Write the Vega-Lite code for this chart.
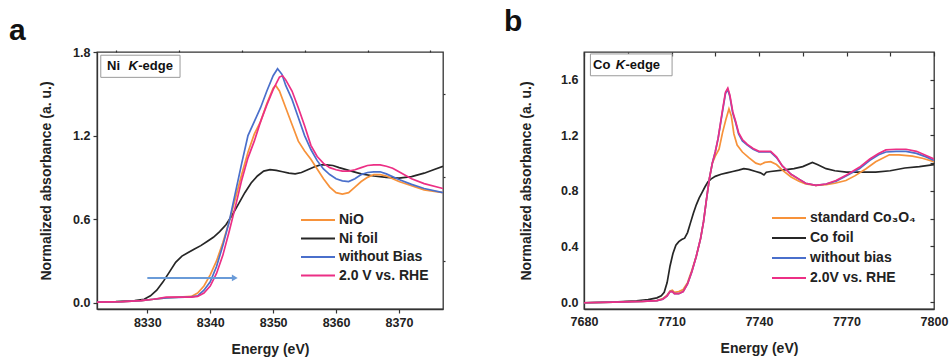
{
  "$schema": "https://vega.github.io/schema/vega-lite/v6.json",
  "padding": {"left": 8, "top": 6, "right": 4, "bottom": 0},
  "background": "white",
  "config": {
    "font": "Liberation Sans",
    "view": {"stroke": "#333333", "strokeWidth": 1.3},
    "axis": {"domainColor": "#333333", "domainWidth": 1.3, "tickColor": "#333333", "tickWidth": 1.2, "labelFont": "Liberation Sans", "labelFontWeight": "bold", "labelFontSize": 12.5, "labelColor": "#222222", "titleFont": "Liberation Sans", "titleFontSize": 14, "titleFontWeight": "bold", "titleColor": "#222222", "grid": false, "labelOverlap": false, "labelFlush": false},
    "legend": {"labelFont": "Liberation Sans", "labelFontWeight": "bold", "labelFontSize": 14, "labelColor": "#222222"}
  },
  "datasets": {
    "ni": [
      {"E": 8322, "v": 0.005, "series": "Ni foil"}, {"E": 8325, "v": 0.008, "series": "Ni foil"}, {"E": 8328, "v": 0.015, "series": "Ni foil"}, {"E": 8329.5, "v": 0.025, "series": "Ni foil"}, {"E": 8330.5, "v": 0.05, "series": "Ni foil"}, {"E": 8331.5, "v": 0.09, "series": "Ni foil"}, {"E": 8332.5, "v": 0.15, "series": "Ni foil"}, {"E": 8333.5, "v": 0.22, "series": "Ni foil"}, {"E": 8334.5, "v": 0.29, "series": "Ni foil"}, {"E": 8335.5, "v": 0.335, "series": "Ni foil"}, {"E": 8336.5, "v": 0.36, "series": "Ni foil"}, {"E": 8337.5, "v": 0.385, "series": "Ni foil"}, {"E": 8338.5, "v": 0.41, "series": "Ni foil"}, {"E": 8339.5, "v": 0.44, "series": "Ni foil"}, {"E": 8340.5, "v": 0.47, "series": "Ni foil"}, {"E": 8341.5, "v": 0.51, "series": "Ni foil"}, {"E": 8342.5, "v": 0.56, "series": "Ni foil"}, {"E": 8343.5, "v": 0.63, "series": "Ni foil"}, {"E": 8344.5, "v": 0.71, "series": "Ni foil"}, {"E": 8345.5, "v": 0.79, "series": "Ni foil"}, {"E": 8346.5, "v": 0.86, "series": "Ni foil"}, {"E": 8347.5, "v": 0.91, "series": "Ni foil"}, {"E": 8348.5, "v": 0.945, "series": "Ni foil"}, {"E": 8349.5, "v": 0.955, "series": "Ni foil"}, {"E": 8350.5, "v": 0.95, "series": "Ni foil"}, {"E": 8351.5, "v": 0.94, "series": "Ni foil"}, {"E": 8352.5, "v": 0.93, "series": "Ni foil"}, {"E": 8353.5, "v": 0.925, "series": "Ni foil"}, {"E": 8354.5, "v": 0.935, "series": "Ni foil"}, {"E": 8355.5, "v": 0.955, "series": "Ni foil"}, {"E": 8356.5, "v": 0.975, "series": "Ni foil"}, {"E": 8357.5, "v": 0.99, "series": "Ni foil"}, {"E": 8358.5, "v": 0.99, "series": "Ni foil"}, {"E": 8359.5, "v": 0.985, "series": "Ni foil"}, {"E": 8360.5, "v": 0.97, "series": "Ni foil"}, {"E": 8362, "v": 0.95, "series": "Ni foil"}, {"E": 8364, "v": 0.925, "series": "Ni foil"}, {"E": 8366, "v": 0.91, "series": "Ni foil"}, {"E": 8368, "v": 0.9, "series": "Ni foil"}, {"E": 8370, "v": 0.895, "series": "Ni foil"}, {"E": 8372, "v": 0.905, "series": "Ni foil"}, {"E": 8374, "v": 0.93, "series": "Ni foil"}, {"E": 8375.5, "v": 0.955, "series": "Ni foil"}, {"E": 8377, "v": 0.98, "series": "Ni foil"},
      {"E": 8322, "v": 0.005, "series": "NiO"}, {"E": 8326, "v": 0.008, "series": "NiO"}, {"E": 8329, "v": 0.015, "series": "NiO"}, {"E": 8331, "v": 0.025, "series": "NiO"}, {"E": 8333, "v": 0.035, "series": "NiO"}, {"E": 8335, "v": 0.04, "series": "NiO"}, {"E": 8337, "v": 0.045, "series": "NiO"}, {"E": 8338, "v": 0.07, "series": "NiO"}, {"E": 8339, "v": 0.12, "series": "NiO"}, {"E": 8340, "v": 0.2, "series": "NiO"}, {"E": 8341, "v": 0.3, "series": "NiO"}, {"E": 8342, "v": 0.43, "series": "NiO"}, {"E": 8343, "v": 0.58, "series": "NiO"}, {"E": 8344, "v": 0.75, "series": "NiO"}, {"E": 8345, "v": 0.92, "series": "NiO"}, {"E": 8346, "v": 1.08, "series": "NiO"}, {"E": 8347, "v": 1.21, "series": "NiO"}, {"E": 8348, "v": 1.3, "series": "NiO"}, {"E": 8349, "v": 1.43, "series": "NiO"}, {"E": 8350, "v": 1.54, "series": "NiO"}, {"E": 8350.4, "v": 1.56, "series": "NiO"}, {"E": 8351, "v": 1.52, "series": "NiO"}, {"E": 8352, "v": 1.4, "series": "NiO"}, {"E": 8353, "v": 1.28, "series": "NiO"}, {"E": 8354, "v": 1.16, "series": "NiO"}, {"E": 8355, "v": 1.09, "series": "NiO"}, {"E": 8356, "v": 1.03, "series": "NiO"}, {"E": 8357, "v": 0.96, "series": "NiO"}, {"E": 8358, "v": 0.89, "series": "NiO"}, {"E": 8359, "v": 0.83, "series": "NiO"}, {"E": 8360, "v": 0.79, "series": "NiO"}, {"E": 8361, "v": 0.78, "series": "NiO"}, {"E": 8362, "v": 0.79, "series": "NiO"}, {"E": 8363, "v": 0.83, "series": "NiO"}, {"E": 8364, "v": 0.87, "series": "NiO"}, {"E": 8365, "v": 0.9, "series": "NiO"}, {"E": 8366, "v": 0.92, "series": "NiO"}, {"E": 8367, "v": 0.92, "series": "NiO"}, {"E": 8368, "v": 0.91, "series": "NiO"}, {"E": 8370, "v": 0.87, "series": "NiO"}, {"E": 8372, "v": 0.84, "series": "NiO"}, {"E": 8374, "v": 0.81, "series": "NiO"}, {"E": 8377, "v": 0.79, "series": "NiO"},
      {"E": 8322, "v": 0.005, "series": "without Bias"}, {"E": 8326, "v": 0.008, "series": "without Bias"}, {"E": 8329, "v": 0.015, "series": "without Bias"}, {"E": 8331, "v": 0.025, "series": "without Bias"}, {"E": 8333, "v": 0.035, "series": "without Bias"}, {"E": 8335, "v": 0.038, "series": "without Bias"}, {"E": 8337, "v": 0.042, "series": "without Bias"}, {"E": 8338, "v": 0.05, "series": "without Bias"}, {"E": 8339, "v": 0.09, "series": "without Bias"}, {"E": 8340, "v": 0.15, "series": "without Bias"}, {"E": 8341, "v": 0.26, "series": "without Bias"}, {"E": 8342, "v": 0.41, "series": "without Bias"}, {"E": 8343, "v": 0.58, "series": "without Bias"}, {"E": 8344, "v": 0.79, "series": "without Bias"}, {"E": 8345, "v": 1.0, "series": "without Bias"}, {"E": 8346, "v": 1.2, "series": "without Bias"}, {"E": 8347, "v": 1.3, "series": "without Bias"}, {"E": 8348, "v": 1.4, "series": "without Bias"}, {"E": 8349, "v": 1.52, "series": "without Bias"}, {"E": 8350, "v": 1.63, "series": "without Bias"}, {"E": 8350.7, "v": 1.68, "series": "without Bias"}, {"E": 8351.4, "v": 1.64, "series": "without Bias"}, {"E": 8352, "v": 1.56, "series": "without Bias"}, {"E": 8353, "v": 1.46, "series": "without Bias"}, {"E": 8354, "v": 1.33, "series": "without Bias"}, {"E": 8355, "v": 1.2, "series": "without Bias"}, {"E": 8356, "v": 1.1, "series": "without Bias"}, {"E": 8357, "v": 1.02, "series": "without Bias"}, {"E": 8358, "v": 0.96, "series": "without Bias"}, {"E": 8359, "v": 0.92, "series": "without Bias"}, {"E": 8360, "v": 0.89, "series": "without Bias"}, {"E": 8361, "v": 0.875, "series": "without Bias"}, {"E": 8362, "v": 0.87, "series": "without Bias"}, {"E": 8363, "v": 0.89, "series": "without Bias"}, {"E": 8364, "v": 0.92, "series": "without Bias"}, {"E": 8365, "v": 0.935, "series": "without Bias"}, {"E": 8366, "v": 0.94, "series": "without Bias"}, {"E": 8367, "v": 0.94, "series": "without Bias"}, {"E": 8368, "v": 0.925, "series": "without Bias"}, {"E": 8370, "v": 0.885, "series": "without Bias"}, {"E": 8372, "v": 0.85, "series": "without Bias"}, {"E": 8374, "v": 0.82, "series": "without Bias"}, {"E": 8377, "v": 0.79, "series": "without Bias"},
      {"E": 8322, "v": 0.005, "series": "2.0 V vs. RHE"}, {"E": 8326, "v": 0.008, "series": "2.0 V vs. RHE"}, {"E": 8329, "v": 0.015, "series": "2.0 V vs. RHE"}, {"E": 8331, "v": 0.025, "series": "2.0 V vs. RHE"}, {"E": 8333, "v": 0.04, "series": "2.0 V vs. RHE"}, {"E": 8335, "v": 0.04, "series": "2.0 V vs. RHE"}, {"E": 8337, "v": 0.04, "series": "2.0 V vs. RHE"}, {"E": 8338, "v": 0.045, "series": "2.0 V vs. RHE"}, {"E": 8339, "v": 0.07, "series": "2.0 V vs. RHE"}, {"E": 8340, "v": 0.12, "series": "2.0 V vs. RHE"}, {"E": 8341, "v": 0.21, "series": "2.0 V vs. RHE"}, {"E": 8342, "v": 0.34, "series": "2.0 V vs. RHE"}, {"E": 8343, "v": 0.51, "series": "2.0 V vs. RHE"}, {"E": 8344, "v": 0.69, "series": "2.0 V vs. RHE"}, {"E": 8345, "v": 0.88, "series": "2.0 V vs. RHE"}, {"E": 8346, "v": 1.04, "series": "2.0 V vs. RHE"}, {"E": 8347, "v": 1.16, "series": "2.0 V vs. RHE"}, {"E": 8348, "v": 1.3, "series": "2.0 V vs. RHE"}, {"E": 8349, "v": 1.42, "series": "2.0 V vs. RHE"}, {"E": 8350, "v": 1.53, "series": "2.0 V vs. RHE"}, {"E": 8351, "v": 1.62, "series": "2.0 V vs. RHE"}, {"E": 8351.5, "v": 1.63, "series": "2.0 V vs. RHE"}, {"E": 8352, "v": 1.6, "series": "2.0 V vs. RHE"}, {"E": 8353, "v": 1.52, "series": "2.0 V vs. RHE"}, {"E": 8354, "v": 1.4, "series": "2.0 V vs. RHE"}, {"E": 8355, "v": 1.27, "series": "2.0 V vs. RHE"}, {"E": 8356, "v": 1.13, "series": "2.0 V vs. RHE"}, {"E": 8357, "v": 1.05, "series": "2.0 V vs. RHE"}, {"E": 8358, "v": 1.0, "series": "2.0 V vs. RHE"}, {"E": 8359, "v": 0.97, "series": "2.0 V vs. RHE"}, {"E": 8360, "v": 0.955, "series": "2.0 V vs. RHE"}, {"E": 8361, "v": 0.945, "series": "2.0 V vs. RHE"}, {"E": 8362, "v": 0.945, "series": "2.0 V vs. RHE"}, {"E": 8363, "v": 0.955, "series": "2.0 V vs. RHE"}, {"E": 8364, "v": 0.97, "series": "2.0 V vs. RHE"}, {"E": 8365, "v": 0.985, "series": "2.0 V vs. RHE"}, {"E": 8366, "v": 0.99, "series": "2.0 V vs. RHE"}, {"E": 8367, "v": 0.99, "series": "2.0 V vs. RHE"}, {"E": 8368, "v": 0.98, "series": "2.0 V vs. RHE"}, {"E": 8369, "v": 0.965, "series": "2.0 V vs. RHE"}, {"E": 8370, "v": 0.94, "series": "2.0 V vs. RHE"}, {"E": 8372, "v": 0.89, "series": "2.0 V vs. RHE"}, {"E": 8374, "v": 0.855, "series": "2.0 V vs. RHE"}, {"E": 8377, "v": 0.82, "series": "2.0 V vs. RHE"}
    ],
    "co": [
      {"E": 7680, "v": -0.005, "series": "Co foil"}, {"E": 7690, "v": 0.0, "series": "Co foil"}, {"E": 7698, "v": 0.008, "series": "Co foil"}, {"E": 7702, "v": 0.017, "series": "Co foil"}, {"E": 7705, "v": 0.03, "series": "Co foil"}, {"E": 7706.5, "v": 0.045, "series": "Co foil"}, {"E": 7707.5, "v": 0.07, "series": "Co foil"}, {"E": 7708.5, "v": 0.14, "series": "Co foil"}, {"E": 7709.5, "v": 0.26, "series": "Co foil"}, {"E": 7710.5, "v": 0.35, "series": "Co foil"}, {"E": 7711.5, "v": 0.41, "series": "Co foil"}, {"E": 7712.5, "v": 0.435, "series": "Co foil"}, {"E": 7713.5, "v": 0.45, "series": "Co foil"}, {"E": 7714.5, "v": 0.46, "series": "Co foil"}, {"E": 7715.5, "v": 0.5, "series": "Co foil"}, {"E": 7716.5, "v": 0.57, "series": "Co foil"}, {"E": 7717.5, "v": 0.64, "series": "Co foil"}, {"E": 7718.5, "v": 0.7, "series": "Co foil"}, {"E": 7719.5, "v": 0.75, "series": "Co foil"}, {"E": 7720.5, "v": 0.79, "series": "Co foil"}, {"E": 7721.5, "v": 0.83, "series": "Co foil"}, {"E": 7722.5, "v": 0.865, "series": "Co foil"}, {"E": 7723.5, "v": 0.885, "series": "Co foil"}, {"E": 7725, "v": 0.905, "series": "Co foil"}, {"E": 7727, "v": 0.92, "series": "Co foil"}, {"E": 7729, "v": 0.93, "series": "Co foil"}, {"E": 7731, "v": 0.94, "series": "Co foil"}, {"E": 7733, "v": 0.95, "series": "Co foil"}, {"E": 7734.8, "v": 0.96, "series": "Co foil"}, {"E": 7736.5, "v": 0.955, "series": "Co foil"}, {"E": 7738.9, "v": 0.94, "series": "Co foil"}, {"E": 7740.5, "v": 0.93, "series": "Co foil"}, {"E": 7741.7, "v": 0.915, "series": "Co foil"}, {"E": 7742.5, "v": 0.935, "series": "Co foil"}, {"E": 7744, "v": 0.94, "series": "Co foil"}, {"E": 7748, "v": 0.95, "series": "Co foil"}, {"E": 7752, "v": 0.96, "series": "Co foil"}, {"E": 7755, "v": 0.975, "series": "Co foil"}, {"E": 7758.3, "v": 1.005, "series": "Co foil"}, {"E": 7760, "v": 0.99, "series": "Co foil"}, {"E": 7763, "v": 0.96, "series": "Co foil"}, {"E": 7766, "v": 0.945, "series": "Co foil"}, {"E": 7770, "v": 0.935, "series": "Co foil"}, {"E": 7775, "v": 0.935, "series": "Co foil"}, {"E": 7780, "v": 0.935, "series": "Co foil"}, {"E": 7785, "v": 0.945, "series": "Co foil"}, {"E": 7790, "v": 0.965, "series": "Co foil"}, {"E": 7795, "v": 0.975, "series": "Co foil"}, {"E": 7800, "v": 0.99, "series": "Co foil"},
      {"E": 7680, "v": -0.005, "series": "standard Co₃O₄"}, {"E": 7690, "v": 0.0, "series": "standard Co₃O₄"}, {"E": 7700, "v": 0.005, "series": "standard Co₃O₄"}, {"E": 7705, "v": 0.01, "series": "standard Co₃O₄"}, {"E": 7707, "v": 0.025, "series": "standard Co₃O₄"}, {"E": 7708.5, "v": 0.05, "series": "standard Co₃O₄"}, {"E": 7709.5, "v": 0.08, "series": "standard Co₃O₄"}, {"E": 7710.3, "v": 0.085, "series": "standard Co₃O₄"}, {"E": 7711, "v": 0.07, "series": "standard Co₃O₄"}, {"E": 7712.5, "v": 0.075, "series": "standard Co₃O₄"}, {"E": 7714, "v": 0.09, "series": "standard Co₃O₄"}, {"E": 7715.5, "v": 0.14, "series": "standard Co₃O₄"}, {"E": 7717, "v": 0.23, "series": "standard Co₃O₄"}, {"E": 7718.5, "v": 0.33, "series": "standard Co₃O₄"}, {"E": 7720, "v": 0.46, "series": "standard Co₃O₄"}, {"E": 7721, "v": 0.58, "series": "standard Co₃O₄"}, {"E": 7722, "v": 0.74, "series": "standard Co₃O₄"}, {"E": 7723, "v": 0.89, "series": "standard Co₃O₄"}, {"E": 7724, "v": 1.0, "series": "standard Co₃O₄"}, {"E": 7725, "v": 1.05, "series": "standard Co₃O₄"}, {"E": 7726.3, "v": 1.1, "series": "standard Co₃O₄"}, {"E": 7727.5, "v": 1.22, "series": "standard Co₃O₄"}, {"E": 7728.6, "v": 1.31, "series": "standard Co₃O₄"}, {"E": 7729.7, "v": 1.39, "series": "standard Co₃O₄"}, {"E": 7730.5, "v": 1.34, "series": "standard Co₃O₄"}, {"E": 7731.4, "v": 1.21, "series": "standard Co₃O₄"}, {"E": 7732.5, "v": 1.13, "series": "standard Co₃O₄"}, {"E": 7734.3, "v": 1.08, "series": "standard Co₃O₄"}, {"E": 7736.5, "v": 1.04, "series": "standard Co₃O₄"}, {"E": 7738.9, "v": 1.0, "series": "standard Co₃O₄"}, {"E": 7740.5, "v": 0.99, "series": "standard Co₃O₄"}, {"E": 7742, "v": 1.005, "series": "standard Co₃O₄"}, {"E": 7744, "v": 1.01, "series": "standard Co₃O₄"}, {"E": 7746, "v": 0.99, "series": "standard Co₃O₄"}, {"E": 7748, "v": 0.95, "series": "standard Co₃O₄"}, {"E": 7751, "v": 0.9, "series": "standard Co₃O₄"}, {"E": 7753.7, "v": 0.87, "series": "standard Co₃O₄"}, {"E": 7756, "v": 0.85, "series": "standard Co₃O₄"}, {"E": 7759.5, "v": 0.84, "series": "standard Co₃O₄"}, {"E": 7763, "v": 0.845, "series": "standard Co₃O₄"}, {"E": 7766, "v": 0.855, "series": "standard Co₃O₄"}, {"E": 7769.8, "v": 0.875, "series": "standard Co₃O₄"}, {"E": 7773, "v": 0.91, "series": "standard Co₃O₄"}, {"E": 7776.7, "v": 0.96, "series": "standard Co₃O₄"}, {"E": 7780, "v": 1.01, "series": "standard Co₃O₄"}, {"E": 7784.7, "v": 1.06, "series": "standard Co₃O₄"}, {"E": 7788, "v": 1.06, "series": "standard Co₃O₄"}, {"E": 7792.6, "v": 1.05, "series": "standard Co₃O₄"}, {"E": 7796, "v": 1.035, "series": "standard Co₃O₄"}, {"E": 7800, "v": 1.01, "series": "standard Co₃O₄"},
      {"E": 7680, "v": -0.005, "series": "without bias"}, {"E": 7690, "v": 0.0, "series": "without bias"}, {"E": 7700, "v": 0.005, "series": "without bias"}, {"E": 7705, "v": 0.01, "series": "without bias"}, {"E": 7707, "v": 0.02, "series": "without bias"}, {"E": 7708.5, "v": 0.045, "series": "without bias"}, {"E": 7709.5, "v": 0.075, "series": "without bias"}, {"E": 7710.3, "v": 0.075, "series": "without bias"}, {"E": 7711, "v": 0.06, "series": "without bias"}, {"E": 7712.5, "v": 0.06, "series": "without bias"}, {"E": 7714, "v": 0.075, "series": "without bias"}, {"E": 7715.5, "v": 0.13, "series": "without bias"}, {"E": 7717, "v": 0.22, "series": "without bias"}, {"E": 7718.5, "v": 0.33, "series": "without bias"}, {"E": 7720, "v": 0.46, "series": "without bias"}, {"E": 7721, "v": 0.58, "series": "without bias"}, {"E": 7722, "v": 0.74, "series": "without bias"}, {"E": 7723, "v": 0.89, "series": "without bias"}, {"E": 7724, "v": 1.0, "series": "without bias"}, {"E": 7725, "v": 1.08, "series": "without bias"}, {"E": 7726, "v": 1.18, "series": "without bias"}, {"E": 7727.4, "v": 1.36, "series": "without bias"}, {"E": 7728.5, "v": 1.5, "series": "without bias"}, {"E": 7729.3, "v": 1.53, "series": "without bias"}, {"E": 7730, "v": 1.48, "series": "without bias"}, {"E": 7731, "v": 1.36, "series": "without bias"}, {"E": 7732, "v": 1.29, "series": "without bias"}, {"E": 7733, "v": 1.21, "series": "without bias"}, {"E": 7734.3, "v": 1.16, "series": "without bias"}, {"E": 7736, "v": 1.13, "series": "without bias"}, {"E": 7738, "v": 1.1, "series": "without bias"}, {"E": 7740, "v": 1.08, "series": "without bias"}, {"E": 7742, "v": 1.08, "series": "without bias"}, {"E": 7744, "v": 1.08, "series": "without bias"}, {"E": 7746, "v": 1.04, "series": "without bias"}, {"E": 7748, "v": 0.98, "series": "without bias"}, {"E": 7751, "v": 0.92, "series": "without bias"}, {"E": 7753.7, "v": 0.885, "series": "without bias"}, {"E": 7756, "v": 0.855, "series": "without bias"}, {"E": 7759.5, "v": 0.84, "series": "without bias"}, {"E": 7763, "v": 0.85, "series": "without bias"}, {"E": 7766.4, "v": 0.87, "series": "without bias"}, {"E": 7770, "v": 0.91, "series": "without bias"}, {"E": 7774.4, "v": 0.96, "series": "without bias"}, {"E": 7778, "v": 1.02, "series": "without bias"}, {"E": 7781, "v": 1.06, "series": "without bias"}, {"E": 7783.5, "v": 1.08, "series": "without bias"}, {"E": 7787, "v": 1.085, "series": "without bias"}, {"E": 7790.4, "v": 1.085, "series": "without bias"}, {"E": 7794, "v": 1.07, "series": "without bias"}, {"E": 7797.3, "v": 1.045, "series": "without bias"}, {"E": 7800, "v": 1.02, "series": "without bias"},
      {"E": 7680, "v": -0.005, "series": "2.0V vs. RHE"}, {"E": 7690, "v": 0.0, "series": "2.0V vs. RHE"}, {"E": 7700, "v": 0.005, "series": "2.0V vs. RHE"}, {"E": 7705, "v": 0.01, "series": "2.0V vs. RHE"}, {"E": 7707, "v": 0.02, "series": "2.0V vs. RHE"}, {"E": 7708.5, "v": 0.045, "series": "2.0V vs. RHE"}, {"E": 7709.5, "v": 0.075, "series": "2.0V vs. RHE"}, {"E": 7710.3, "v": 0.075, "series": "2.0V vs. RHE"}, {"E": 7711, "v": 0.06, "series": "2.0V vs. RHE"}, {"E": 7712.5, "v": 0.06, "series": "2.0V vs. RHE"}, {"E": 7714, "v": 0.075, "series": "2.0V vs. RHE"}, {"E": 7715.5, "v": 0.13, "series": "2.0V vs. RHE"}, {"E": 7717, "v": 0.22, "series": "2.0V vs. RHE"}, {"E": 7718.5, "v": 0.33, "series": "2.0V vs. RHE"}, {"E": 7720, "v": 0.46, "series": "2.0V vs. RHE"}, {"E": 7721, "v": 0.58, "series": "2.0V vs. RHE"}, {"E": 7722, "v": 0.74, "series": "2.0V vs. RHE"}, {"E": 7723, "v": 0.89, "series": "2.0V vs. RHE"}, {"E": 7724, "v": 1.0, "series": "2.0V vs. RHE"}, {"E": 7725, "v": 1.08, "series": "2.0V vs. RHE"}, {"E": 7726, "v": 1.18, "series": "2.0V vs. RHE"}, {"E": 7727.4, "v": 1.37, "series": "2.0V vs. RHE"}, {"E": 7728.5, "v": 1.51, "series": "2.0V vs. RHE"}, {"E": 7729.3, "v": 1.54, "series": "2.0V vs. RHE"}, {"E": 7730, "v": 1.49, "series": "2.0V vs. RHE"}, {"E": 7731, "v": 1.37, "series": "2.0V vs. RHE"}, {"E": 7732, "v": 1.3, "series": "2.0V vs. RHE"}, {"E": 7733, "v": 1.22, "series": "2.0V vs. RHE"}, {"E": 7734.3, "v": 1.17, "series": "2.0V vs. RHE"}, {"E": 7736, "v": 1.135, "series": "2.0V vs. RHE"}, {"E": 7738, "v": 1.105, "series": "2.0V vs. RHE"}, {"E": 7740, "v": 1.085, "series": "2.0V vs. RHE"}, {"E": 7742, "v": 1.085, "series": "2.0V vs. RHE"}, {"E": 7744, "v": 1.085, "series": "2.0V vs. RHE"}, {"E": 7746, "v": 1.045, "series": "2.0V vs. RHE"}, {"E": 7748, "v": 0.98, "series": "2.0V vs. RHE"}, {"E": 7751, "v": 0.92, "series": "2.0V vs. RHE"}, {"E": 7753.7, "v": 0.885, "series": "2.0V vs. RHE"}, {"E": 7756, "v": 0.855, "series": "2.0V vs. RHE"}, {"E": 7759.5, "v": 0.84, "series": "2.0V vs. RHE"}, {"E": 7763, "v": 0.85, "series": "2.0V vs. RHE"}, {"E": 7766.4, "v": 0.875, "series": "2.0V vs. RHE"}, {"E": 7770, "v": 0.915, "series": "2.0V vs. RHE"}, {"E": 7774.4, "v": 0.97, "series": "2.0V vs. RHE"}, {"E": 7778, "v": 1.03, "series": "2.0V vs. RHE"}, {"E": 7781, "v": 1.07, "series": "2.0V vs. RHE"}, {"E": 7783.5, "v": 1.095, "series": "2.0V vs. RHE"}, {"E": 7787, "v": 1.1, "series": "2.0V vs. RHE"}, {"E": 7790.4, "v": 1.1, "series": "2.0V vs. RHE"}, {"E": 7794, "v": 1.085, "series": "2.0V vs. RHE"}, {"E": 7797.3, "v": 1.055, "series": "2.0V vs. RHE"}, {"E": 7800, "v": 1.03, "series": "2.0V vs. RHE"}
    ]
  },
  "hconcat": [
    {
      "width": 346,
      "height": 257,
      "title": {"text": "a", "anchor": "start", "frame": "group", "dx": -88, "fontSize": 30, "fontWeight": "bold", "font": "Liberation Sans", "color": "#111111", "offset": 0},
      "resolve": {"axis": {"x": "independent", "y": "independent"}},
      "layer": [
        {
          "data": {"name": "ni"},
          "mark": {"type": "line", "strokeWidth": 1.7, "clip": true},
          "encoding": {
            "x": {"field": "E", "type": "quantitative", "scale": {"domain": [8322, 8377], "nice": false, "zero": false}, "axis": {"values": [8330, 8340, 8350, 8360, 8370], "format": "d", "title": "Energy (eV)", "tickSize": 4, "labelPadding": 3, "titlePadding": 14}},
            "y": {"field": "v", "type": "quantitative", "scale": {"domain": [-0.045, 1.8], "nice": false, "zero": false}, "axis": {"values": [0, 0.6, 1.2, 1.8], "format": ".1f", "title": "Normalized absorbance (a. u.)", "tickSize": 4, "labelPadding": 3, "titlePadding": 19}},
            "color": {"field": "series", "type": "nominal", "sort": ["NiO", "Ni foil", "without Bias", "2.0 V vs. RHE"], "scale": {"domain": ["NiO", "Ni foil", "without Bias", "2.0 V vs. RHE"], "range": ["#F7923A", "#262626", "#4A6FCB", "#EC2F85"]}, "legend": {"title": null, "orient": "none", "legendX": 214, "legendY": 161, "symbolType": "M-3.4,0H3.4", "symbolSize": 100, "symbolStrokeWidth": 2, "rowPadding": 4.5, "padding": 0, "labelOffset": 14}}
          }
        },
        {
          "data": {"values": [{}]},
          "mark": {"type": "rect", "fill": "white", "stroke": "#9a9a9a", "strokeWidth": 1},
          "encoding": {
            "x": {"datum": 8322.6, "type": "quantitative", "axis": {"values": [8325, 8335, 8345, 8355, 8365, 8375], "labels": false, "title": null, "tickSize": 2, "domain": false}},
            "x2": {"datum": 8335.2},
            "y": {"datum": 1.777, "type": "quantitative", "axis": {"values": [0.3, 0.9, 1.5], "labels": false, "title": null, "tickSize": 2, "domain": false}},
            "y2": {"datum": 1.618}
          }
        },
        {
          "data": {"values": [{}]},
          "mark": {"type": "text", "text": "Ni", "align": "left", "baseline": "middle", "fontSize": 13, "fontWeight": "bold", "font": "Liberation Sans", "color": "#111111"},
          "encoding": {"x": {"datum": 8323.6, "type": "quantitative", "axis": null}, "y": {"datum": 1.697, "type": "quantitative", "axis": null}}
        },
        {
          "data": {"values": [{}]},
          "mark": {"type": "text", "text": "K", "align": "left", "baseline": "middle", "fontSize": 13, "fontWeight": "bold", "fontStyle": "italic", "font": "Liberation Sans", "color": "#111111"},
          "encoding": {"x": {"datum": 8327.0, "type": "quantitative", "axis": null}, "y": {"datum": 1.697, "type": "quantitative", "axis": null}}
        },
        {
          "data": {"values": [{}]},
          "mark": {"type": "text", "text": "-edge", "align": "left", "baseline": "middle", "fontSize": 13, "fontWeight": "bold", "font": "Liberation Sans", "color": "#111111"},
          "encoding": {"x": {"datum": 8328.55, "type": "quantitative", "axis": null}, "y": {"datum": 1.697, "type": "quantitative", "axis": null}}
        },
        {
          "data": {"values": [{}]},
          "mark": {"type": "rule", "color": "#6A9BD8", "strokeWidth": 2},
          "encoding": {"x": {"datum": 8330, "type": "quantitative", "axis": null}, "x2": {"datum": 8343.8}, "y": {"datum": 0.178, "type": "quantitative", "axis": null}}
        },
        {
          "data": {"values": [{}]},
          "mark": {"type": "point", "shape": "triangle-right", "filled": true, "color": "#6A9BD8", "size": 45, "opacity": 1},
          "encoding": {"x": {"datum": 8343.9, "type": "quantitative", "axis": null}, "y": {"datum": 0.178, "type": "quantitative", "axis": null}}
        }
      ]
    },
    {
      "width": 350,
      "height": 257,
      "title": {"text": "b", "anchor": "start", "frame": "group", "dx": -80, "fontSize": 30, "fontWeight": "bold", "font": "Liberation Sans", "color": "#111111", "offset": 14},
      "resolve": {"axis": {"x": "independent", "y": "independent"}},
      "layer": [
        {
          "data": {"name": "co"},
          "mark": {"type": "line", "strokeWidth": 1.7, "clip": true},
          "encoding": {
            "x": {"field": "E", "type": "quantitative", "scale": {"domain": [7680, 7800], "nice": false, "zero": false}, "axis": {"values": [7680, 7710, 7740, 7770, 7800], "format": "d", "title": "Energy (eV)", "ticks": false, "labelPadding": 6, "titlePadding": 14}},
            "y": {"field": "v", "type": "quantitative", "scale": {"domain": [-0.05, 1.8], "nice": false, "zero": false}, "axis": {"values": [0, 0.4, 0.8, 1.2, 1.6], "format": ".1f", "title": "Normalized absorbance (a. u.)", "ticks": false, "labelPadding": 6, "titlePadding": 27}},
            "color": {"field": "series", "type": "nominal", "sort": ["standard Co₃O₄", "Co foil", "without bias", "2.0V vs. RHE"], "scale": {"domain": ["standard Co₃O₄", "Co foil", "without bias", "2.0V vs. RHE"], "range": ["#F7923A", "#262626", "#4A6FCB", "#EC2F85"]}, "legend": {"title": null, "orient": "none", "legendX": 198, "legendY": 159, "symbolType": "M-3.4,0H3.4", "symbolSize": 100, "symbolStrokeWidth": 2, "rowPadding": 6, "padding": 0, "labelOffset": 14}}
          }
        },
        {
          "data": {"values": [{}]},
          "mark": {"type": "rect", "fill": "white", "stroke": "#9a9a9a", "strokeWidth": 1},
          "encoding": {
            "x": {"datum": 7682.2, "type": "quantitative", "axis": {"values": [7680, 7695, 7710, 7725, 7740, 7755, 7770, 7785, 7800], "labels": false, "title": null, "tickSize": -4, "domain": false}},
            "x2": {"datum": 7710.2},
            "y": {"datum": 1.786, "type": "quantitative", "axis": {"values": [0, 0.2, 0.4, 0.6, 0.8, 1.0, 1.2, 1.4, 1.6], "labels": false, "title": null, "tickSize": -4, "domain": false}},
            "y2": {"datum": 1.629}
          }
        },
        {
          "data": {"values": [{}]},
          "mark": {"type": "text", "text": "Co", "align": "left", "baseline": "middle", "fontSize": 13, "fontWeight": "bold", "font": "Liberation Sans", "color": "#111111"},
          "encoding": {"x": {"datum": 7683.1, "type": "quantitative", "axis": null}, "y": {"datum": 1.707, "type": "quantitative", "axis": null}}
        },
        {
          "data": {"values": [{}]},
          "mark": {"type": "text", "text": "K", "align": "left", "baseline": "middle", "fontSize": 13, "fontWeight": "bold", "fontStyle": "italic", "font": "Liberation Sans", "color": "#111111"},
          "encoding": {"x": {"datum": 7690.9, "type": "quantitative", "axis": null}, "y": {"datum": 1.707, "type": "quantitative", "axis": null}}
        },
        {
          "data": {"values": [{}]},
          "mark": {"type": "text", "text": "-edge", "align": "left", "baseline": "middle", "fontSize": 13, "fontWeight": "bold", "font": "Liberation Sans", "color": "#111111"},
          "encoding": {"x": {"datum": 7694.2, "type": "quantitative", "axis": null}, "y": {"datum": 1.707, "type": "quantitative", "axis": null}}
        }
      ]
    }
  ],
  "spacing": 56,
  "resolve": {"scale": {"color": "independent"}, "legend": {"color": "independent"}}
}
